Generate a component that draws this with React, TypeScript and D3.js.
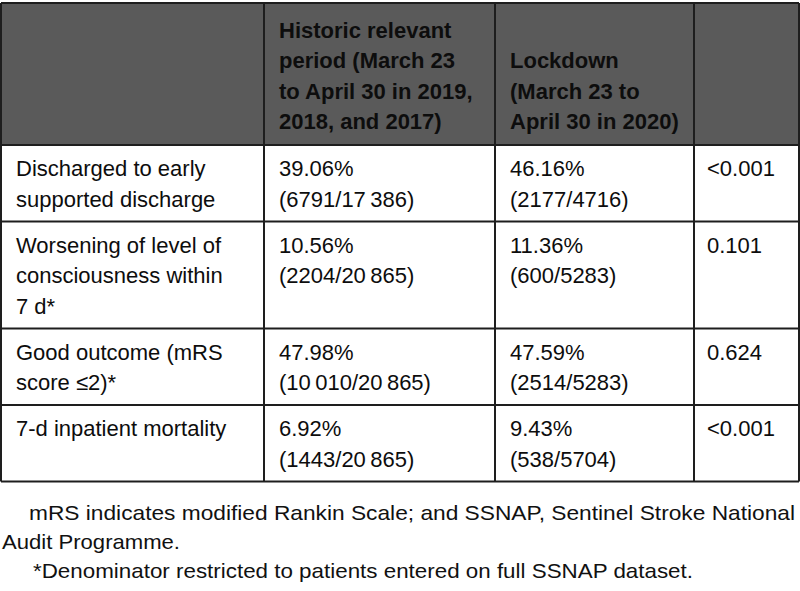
import React from 'react';
import * as d3 from 'd3';

// table content
const headerHistoric = ['Historic relevant', 'period (March 23', 'to April 30 in 2019,', '2018, and 2017)'];
const headerLockdown = ['Lockdown', '(March 23 to', 'April 30 in 2020)'];

const outcomeLabels = [
  ['Discharged to early', 'supported discharge'],
  ['Worsening of level of', 'consciousness within', '7 d*'],
  ['Good outcome (mRS', 'score \u22642)*'],
  ['7-d inpatient mortality'],
];
const historicPct = ['39.06%', '10.56%', '47.98%', '6.92%'];
const historicCounts = ['(6791/17\u2009386)', '(2204/20\u2009865)', '(10\u2009010/20\u2009865)', '(1443/20\u2009865)'];
const lockdownPct = ['46.16%', '11.36%', '47.59%', '9.43%'];
const lockdownCounts = ['(2177/4716)', '(600/5283)', '(2514/5283)', '(538/5704)'];
const pValues = ['<0.001', '0.101', '0.624', '<0.001'];

const footnotes = [
  { text: 'mRS indicates modified Rankin Scale; and SSNAP, Sentinel Stroke National', x: 29, len: 766 },
  { text: 'Audit Programme.', x: 2, len: 178 },
  { text: '*Denominator restricted to patients entered on full SSNAP dataset.', x: 33, len: 660 },
];

const W = 800;
const H = 591;
const FONT = '"Liberation Sans", Arial, Helvetica, sans-serif';
const LINE = 30.5;

const App: React.FC = () => {
  const colEdges = [1, 264, 495, 694, 799];
  const tableTop = 3;
  const headerBottom = 145;

  // body rows: heights follow how many text lines each row carries
  const rowLines = outcomeLabels.map(l => Math.max(l.length, 2));
  const rowHeights = rowLines.map(n => n * LINE + 15.5);
  const rowTops = Array.from(d3.cumsum([0, ...rowHeights]), v => v + headerBottom);
  const tableBottom = rowTops[rowTops.length - 1];

  const x = (c: number) => colEdges[c] + 15;
  const stroke = '#1e1e1e';

  const textLines = (lines: string[], tx: number, firstBaseline: number, bold = false) =>
    lines.map((t, i) => (
      <text key={i} x={tx} y={firstBaseline + i * LINE} fontFamily={FONT} fontSize={22}
        fontWeight={bold ? 700 : 400} fill="#0d0d0d">{t}</text>
    ));

  const headerLastBaseline = 129;

  return (
    <svg width={W} height={H} style={{ position: 'absolute', left: 0, top: 0, background: '#fff' }}>
      <rect x={colEdges[0]} y={tableTop} width={colEdges[4] - colEdges[0]} height={headerBottom - tableTop} fill="#5a5a5a" />

      {textLines(headerHistoric, x(1), headerLastBaseline - (headerHistoric.length - 1) * LINE, true)}
      {textLines(headerLockdown, x(2), headerLastBaseline - (headerLockdown.length - 1) * LINE, true)}

      {outcomeLabels.map((lab, r) => {
        const b = rowTops[r] + 31;
        return (
          <g key={r}>
            {textLines(lab, x(0), b)}
            {textLines([historicPct[r], historicCounts[r]], x(1), b)}
            {textLines([lockdownPct[r], lockdownCounts[r]], x(2), b)}
            {textLines([pValues[r]], colEdges[3] + 13, b)}
          </g>
        );
      })}

      {/* grid lines */}
      {rowTops.map((y, i) => (
        <line key={'h' + i} x1={colEdges[0]} x2={colEdges[4]} y1={y} y2={y} stroke={stroke} strokeWidth={2} />
      ))}
      <line x1={colEdges[0]} x2={colEdges[4]} y1={tableTop} y2={tableTop} stroke={stroke} strokeWidth={2} />
      {colEdges.map((cx, i) => (
        <line key={'v' + i} x1={cx} x2={cx} y1={tableTop} y2={tableBottom} stroke={stroke} strokeWidth={2} />
      ))}

      {footnotes.map((f, i) => (
        <text key={i} x={f.x} y={520 + i * 29} fontFamily={FONT} fontSize={21} fill="#111"
          textLength={f.len} lengthAdjust="spacingAndGlyphs">{f.text}</text>
      ))}
    </svg>
  );
};

export default App;
